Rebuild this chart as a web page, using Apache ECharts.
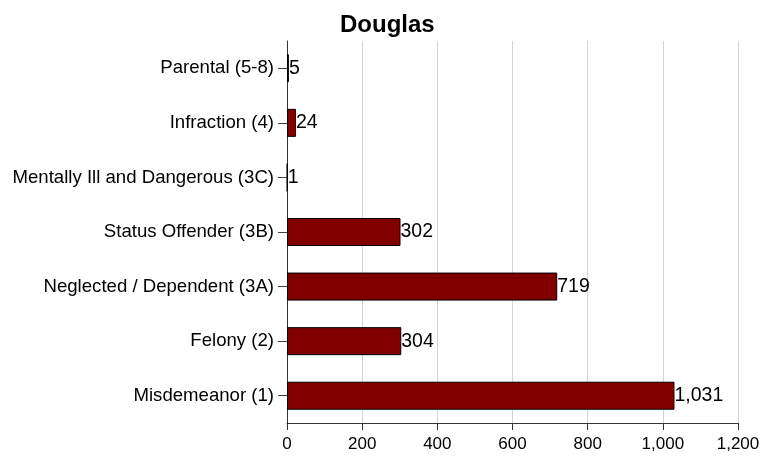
<!DOCTYPE html>
<html style="height: 100%">
   <head>
       <meta charset="utf-8">
   </head>
   <body style="height: 100%; margin: 0; background: #fff">
       <div id="container" style="width: 775px; height: 456px"></div>
       <script type="text/javascript" src="https://cdn.jsdelivr.net/npm/echarts@6/dist/echarts.min.js"></script>
       <script type="text/javascript">
// categories listed bottom to top (echarts category y axis starts at the bottom)
var categories = ['Misdemeanor (1)', 'Felony (2)', 'Neglected / Dependent (3A)', 'Status Offender (3B)',
    'Mentally Ill and Dangerous (3C)', 'Infraction (4)', 'Parental (5-8)'];
var counts = [1031, 304, 719, 302, 1, 24, 5];
var xTicks = [0, 200, 400, 600, 800, 1000, 1200];

var dom = document.getElementById("container");
var myChart = echarts.init(dom);
var fnt = 'Liberation Sans, Arial, sans-serif';

option = {
    backgroundColor: '#fff',
    animation: false,
    title: {
        text: 'Douglas',
        left: 335,
        top: 8,
        textStyle: {
            color: '#000',
            fontSize: 24,
            fontWeight: 'bold',
            fontFamily: fnt
        }
    },
    grid: {
        left: 287,
        right: 37,
        top: 41,
        bottom: 33,
        containLabel: false
    },
    xAxis: {
        type: 'value',
        min: xTicks[0],
        max: xTicks[xTicks.length - 1],
        interval: 200,
        axisLine: {show: true, lineStyle: {color: '#333'}},
        axisTick: {show: true, length: 7, lineStyle: {color: '#333'}},
        axisLabel: {
            color: '#000',
            fontSize: 17,
            fontFamily: fnt,
            margin: 13,
            formatter: function (v) { return v.toLocaleString('en-US'); }
        },
        splitLine: {show: true, lineStyle: {color: '#d4d4d4'}}
    },
    yAxis: {
        type: 'category',
        data: categories,
        axisLine: {show: true, lineStyle: {color: '#333'}},
        axisTick: {show: true, alignWithLabel: true, length: 9, lineStyle: {color: '#444'}},
        axisLabel: {
            color: '#000',
            fontSize: 18.6,
            fontFamily: fnt,
            margin: 13
        },
        splitLine: {show: false}
    },
    series: [{
        type: 'bar',
        data: counts,
        barWidth: 28,
        itemStyle: {
            color: '#800000',
            borderColor: '#000',
            borderWidth: 1
        },
        label: {
            show: true,
            position: 'right',
            distance: 0,
            color: '#000',
            fontSize: 19.5,
            fontFamily: fnt,
            formatter: function (p) { return p.value.toLocaleString('en-US'); }
        }
    }]
};

myChart.setOption(option, true);
       </script>
   </body>
</html>
